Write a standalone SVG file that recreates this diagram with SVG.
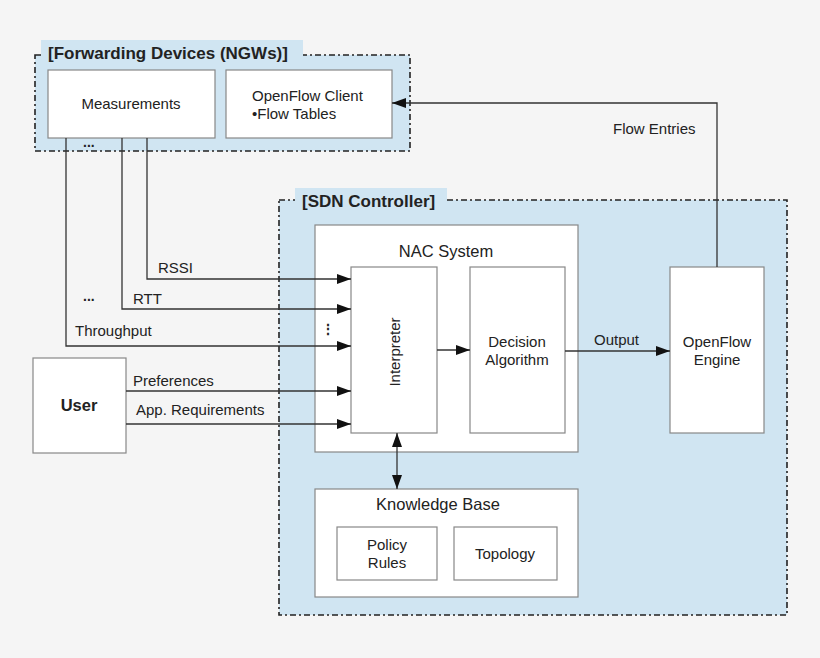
<svg xmlns="http://www.w3.org/2000/svg" width="820" height="658" viewBox="0 0 820 658">
<style>
text{font-family:"Liberation Sans",Arial,sans-serif;font-size:15px;fill:#222}
.b{fill:#fff;stroke:#888;stroke-width:1.2}
.c{fill:#d0e5f2;stroke:#222;stroke-width:1.6;stroke-dasharray:6,3,2,3}
.t{fill:#d0e5f2}
.h{font-weight:bold;font-size:17px}
.l{fill:none;stroke:#333;stroke-width:1.3}
.m{text-anchor:middle}
</style>
<defs>
<marker id="a" markerWidth="14" markerHeight="10" refX="14" refY="5" orient="auto" markerUnits="userSpaceOnUse"><path d="M0,0L14,5L0,10z" fill="#111"/></marker>
<marker id="s" markerWidth="14" markerHeight="10" refX="0" refY="5" orient="auto" markerUnits="userSpaceOnUse"><path d="M14,0L0,5L14,10z" fill="#111"/></marker>
</defs>
<rect width="820" height="658" fill="#f5f5f5"/>
<g id="fwd">
<rect class="c" x="35" y="55" width="375" height="96"/>
<rect class="t" x="41" y="40" width="262" height="22"/>
<text class="h" x="48" y="59">[Forwarding Devices (NGWs)]</text>
</g>
<g id="measurements"><rect class="b" x="48" y="70" width="167" height="68"/><text class="m" x="131" y="109">Measurements</text></g>
<g id="ofclient"><rect class="b" x="226" y="70" width="166" height="68"/><text x="252" y="101">OpenFlow Client</text><text x="252" y="119">•Flow Tables</text></g>
<text x="83" y="147" style="font-weight:bold;font-size:14px">...</text>
<g id="sdn">
<rect class="c" x="279" y="200" width="508" height="415"/>
<rect class="t" x="295" y="188" width="152" height="22"/>
<text class="h" x="302" y="207">[SDN Controller]</text>
</g>
<g id="nac"><rect class="b" x="315" y="225" width="263" height="227"/><text class="m" x="446" y="257" style="font-size:16.5px">NAC System</text></g>
<g id="interpreter"><rect class="b" x="351" y="267" width="86" height="166"/><text class="m" transform="translate(400,352) rotate(-90)">Interpreter</text></g>
<g id="decision"><rect class="b" x="470" y="267" width="95" height="166"/><text class="m" x="517" y="347">Decision</text><text class="m" x="517" y="365">Algorithm</text></g>
<g id="engine"><rect class="b" x="670" y="267" width="94" height="166"/><text class="m" x="717" y="347">OpenFlow</text><text class="m" x="717" y="365">Engine</text></g>
<g id="kb"><rect class="b" x="315" y="489" width="263" height="108"/><text class="m" x="438" y="510" style="font-size:16.5px">Knowledge Base</text></g>
<g id="policy"><rect class="b" x="337" y="527" width="100" height="53"/><text class="m" x="387" y="550">Policy</text><text class="m" x="387" y="568">Rules</text></g>
<g id="topology"><rect class="b" x="454" y="527" width="103" height="53"/><text class="m" x="505" y="559">Topology</text></g>
<g id="user"><rect class="b" x="33" y="358" width="93" height="95"/><text class="m" x="79" y="411" style="font-weight:bold;font-size:16.5px">User</text></g>
<g id="connectors">
<path class="l" d="M147,138V279H351" marker-end="url(#a)"/>
<path class="l" d="M122,138V309H351" marker-end="url(#a)"/>
<path class="l" d="M66,138V346H351" marker-end="url(#a)"/>
<path class="l" d="M126,391H351" marker-end="url(#a)"/>
<path class="l" d="M126,424H351" marker-end="url(#a)"/>
<path class="l" d="M437,350H470" marker-end="url(#a)"/>
<path class="l" d="M565,351H670" marker-end="url(#a)"/>
<path class="l" d="M717,267V103H392" marker-end="url(#a)"/>
<path class="l" d="M397,433V489" marker-start="url(#s)" marker-end="url(#a)"/>
<text x="158" y="273">RSSI</text>
<text x="133" y="304">RTT</text>
<text x="75" y="336">Throughput</text>
<text x="83" y="301" style="font-weight:bold;font-size:14px">...</text>
<text x="321" y="334" style="font-weight:bold;font-size:14px">⋮</text>
<text x="133" y="386">Preferences</text>
<text x="136" y="415">App. Requirements</text>
<text x="594" y="345">Output</text>
<text x="613" y="134">Flow Entries</text>
</g>
</svg>
